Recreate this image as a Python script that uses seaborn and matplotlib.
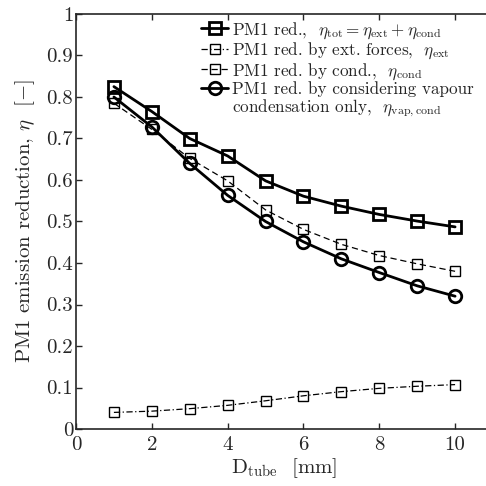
import numpy as np
import pandas as pd
import matplotlib
matplotlib.use("Agg")
import matplotlib.pyplot as plt
from matplotlib.lines import Line2D
import seaborn as sns
from matplotlib.ticker import FormatStrFormatter, MultipleLocator

D_tube = [1, 2, 3, 4, 5, 6, 7, 8, 9, 10]
eta_tot = [0.825, 0.765, 0.700, 0.658, 0.598, 0.561, 0.537, 0.517, 0.501, 0.487]
eta_ext = [0.040, 0.043, 0.049, 0.057, 0.068, 0.080, 0.090, 0.098, 0.103, 0.107]
eta_cond = [0.785, 0.722, 0.652, 0.598, 0.528, 0.481, 0.445, 0.418, 0.398, 0.380]
eta_vap = [0.800, 0.728, 0.640, 0.563, 0.500, 0.451, 0.410, 0.377, 0.345, 0.320]

labels = [
    r"PM1 red.,  $\eta_{\rm tot} = \eta_{\rm ext} + \eta_{\rm cond}$",
    r"PM1 red. by ext. forces,  $\eta_{\rm ext}$",
    r"PM1 red. by cond.,  $\eta_{\rm cond}$",
    "PM1 red. by considering vapour",
]
label_cont = r"condensation only,  $\eta_{\rm vap,cond}$"

sns.set_style("ticks")
plt.rcParams["font.family"] = ["cmr10", "DejaVu Serif"]
plt.rcParams["mathtext.fontset"] = "cm"
plt.rcParams["axes.formatter.use_mathtext"] = True

fig = plt.figure(figsize=(4.86, 4.86), dpi=100)
ax = fig.add_axes([76 / 486, 57 / 486, 417 / 486, 415 / 486])

series = [eta_tot, eta_ext, eta_cond, eta_vap]
styles = [
    dict(linestyle="-", marker="s", lw=2.0, ms=8, mew=2.0),
    dict(linestyle=(0, (5, 2, 1, 2)), marker="s", lw=0.9, ms=7, mew=1.0),
    dict(linestyle=(0, (5, 3)), marker="s", lw=0.9, ms=7, mew=1.0),
    dict(linestyle="-", marker="o", lw=2.0, ms=9, mew=2.0),
]
for vals, lab, st in zip(series, labels, styles):
    df = pd.DataFrame({"D": D_tube, "eta": vals})
    sns.lineplot(data=df, x="D", y="eta", ax=ax, color="black", label=lab,
                 linestyle=st["linestyle"], marker=st["marker"], lw=st["lw"],
                 markersize=st["ms"], markeredgewidth=st["mew"],
                 markerfacecolor="none", markeredgecolor="black")

ax.set_xlim(0, 11)
ax.set_ylim(0, 1)
ax.xaxis.set_major_locator(MultipleLocator(2))
ax.yaxis.set_major_locator(MultipleLocator(0.1))
ax.yaxis.set_major_formatter(FormatStrFormatter("%g"))
ax.xaxis.set_major_formatter(FormatStrFormatter("%g"))
ax.tick_params(direction="in", top=True, right=True, labelsize=15, length=4, width=1, pad=2)
ax.tick_params(axis="x", pad=5)
for s in ax.spines.values():
    s.set_linewidth(1.2)

ax.set_xlabel(r"$\rm D_{tube}$  [mm]", fontsize=15, labelpad=2)
ax.set_ylabel(r"PM1 emission reduction, $\eta$  $[-]$", fontsize=15, labelpad=7)

handles, labs = ax.get_legend_handles_labels()
handles.append(Line2D([], [], color="none"))
labs.append(label_cont)
leg = ax.legend(handles, labs, loc="upper left", bbox_to_anchor=(125 / 417, 0.985),
                frameon=False, fontsize=12.3, handlelength=1.6, handletextpad=0.2,
                labelspacing=0.0, borderaxespad=0.0, borderpad=0.0)

fig.savefig("out.png", dpi=100)
